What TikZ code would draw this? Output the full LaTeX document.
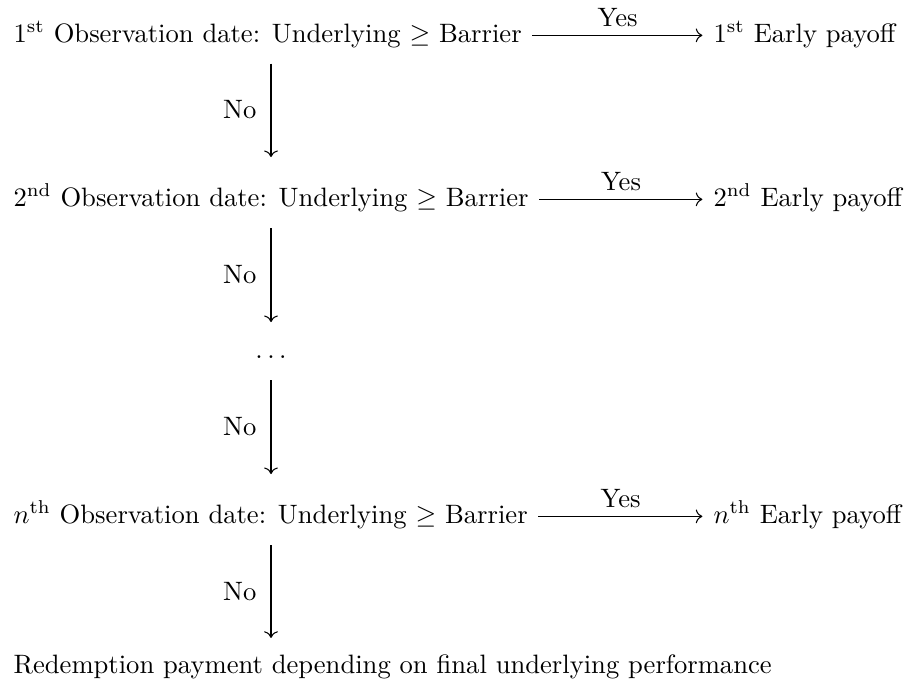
\documentclass[tikz,border=0pt]{standalone}
\usetikzlibrary{arrows.meta}
\begin{document}
\begin{tikzpicture}[x=0.3759pt, y=-0.3759pt,
  txt/.style={inner sep=0pt, anchor=base west},
  lab/.style={inner sep=0pt},
  harr/.style={-{Computer Modern Rightarrow}, line width=0.4pt, shorten <=3.8pt, shorten >=4pt},
  varr/.style={-{Computer Modern Rightarrow}, line width=0.4pt}]
\useasboundingbox (0,0) rectangle (906,684);
\coordinate (col) at (271,0);
% rows
\node[txt] (L1) at (13,42) {1\textsuperscript{st} Observation date: Underlying $\geq$ Barrier};
\node[txt] (R1) at (713,42) {1\textsuperscript{st} Early payoff};
\node[txt] (L2) at (13,206) {2\textsuperscript{nd} Observation date: Underlying $\geq$ Barrier};
\node[txt] (R2) at (713,206) {2\textsuperscript{nd} Early payoff};
\node[inner sep=0pt, anchor=base] (D) at (271,358.5) {$\ldots$};
\node[txt] (L3) at (13,523) {$n$\textsuperscript{th} Observation date: Underlying $\geq$ Barrier};
\node[txt] (R3) at (713,523) {$n$\textsuperscript{th} Early payoff};
\node[txt] (L4) at (13,673) {Redemption payment depending on final underlying performance};
% yes arrows
\draw[harr] ([yshift=2.5pt]L1.base east) -- node[lab, above=3pt] (y1) {Yes} ([yshift=2.5pt]R1.base west);
\draw[harr] ([yshift=2.5pt]L2.base east) -- node[lab, above=3pt] (y2) {Yes} ([yshift=2.5pt]R2.base west);
\draw[harr] ([yshift=2.5pt]L3.base east) -- node[lab, above=3pt] (y3) {Yes} ([yshift=2.5pt]R3.base west);
% no arrows
\draw[varr, shorten <=8.1pt, shorten >=18.4pt] (L1.base -| col) -- node[lab, pos=0.4146, left=5.3pt] (n1) {No} (L2.base -| col);
\draw[varr, shorten <=8.3pt, shorten >=13.7pt] (L2.base -| col) -- node[lab, pos=0.4525, left=5.3pt] (n2) {No} (D.base);
\draw[varr, shorten <=8.1pt, shorten >=18.4pt] (D.base) -- node[lab, pos=0.4164, left=5.3pt] (n3) {No} (L3.base -| col);
\draw[varr, shorten <=8.3pt, shorten >=13.2pt] (L3.base -| col) -- node[lab, pos=0.4567, left=5.3pt] (n4) {No} (L4.base -| col);
\end{tikzpicture}
\end{document}
